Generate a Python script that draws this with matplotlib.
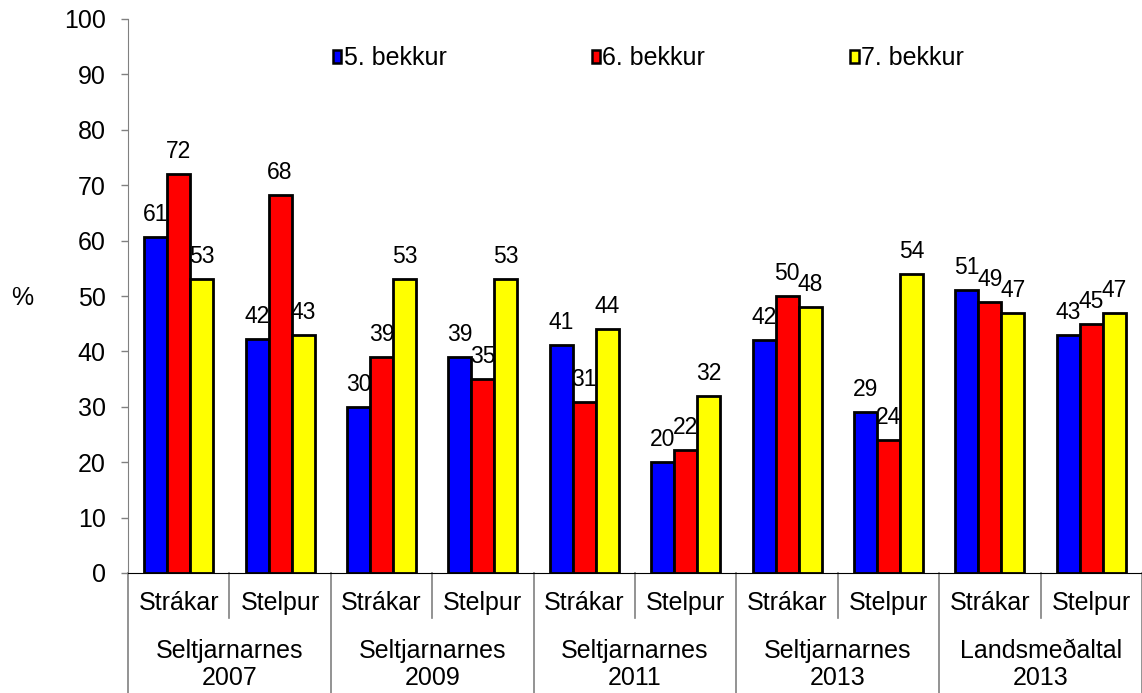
import matplotlib
matplotlib.use("Agg")
import matplotlib.pyplot as plt
from matplotlib.patches import Patch
import numpy as np

plt.rcParams['font.family'] = ['Liberation Sans', 'DejaVu Sans']

# Data
sub_labels = ['Strákar', 'Stelpur'] * 5
group_labels = ['Seltjarnarnes\n2007', 'Seltjarnarnes\n2009', 'Seltjarnarnes\n2011',
                'Seltjarnarnes\n2013', 'Landsmeðaltal\n2013']
series_names = ['5. bekkur', '6. bekkur', '7. bekkur']
bekkur5 = [60.6, 42.2, 30.0, 39.0, 41.2, 20.0, 42.0, 29.0, 51.0, 43.0]
bekkur6 = [72.0, 68.2, 39.0, 35.0, 30.8, 22.2, 50.0, 24.0, 49.0, 45.0]
bekkur7 = [53.0, 42.9, 53.0, 53.0, 44.0, 32.0, 48.0, 54.0, 47.0, 47.0]
colors = ['#0000FF', '#FF0000', '#FFFF00']

FS = 18
W, H = 1142, 693
fig = plt.figure(figsize=(W / 100, H / 100), dpi=100)
ax = fig.add_axes([128 / W, (H - 573) / H, (W - 128) / W, 554 / H])

n = len(sub_labels)
x = np.arange(n) + 0.5
bw = 0.227
series = [bekkur5, bekkur6, bekkur7]
handles = []
for j, (vals, col, name) in enumerate(zip(series, colors, series_names)):
    pos = x + (j - 1) * bw
    ax.bar(pos, vals, width=bw, color=col, edgecolor='black', linewidth=2.0, zorder=3)
    for px, v in zip(pos, vals):
        ax.annotate(str(int(np.floor(v + 0.5))), (px, v), xytext=(0, 11.5),
                    textcoords='offset points', ha='center', va='baseline',
                    fontsize=16.5, zorder=4)
    handles.append(Patch(facecolor=col, edgecolor='black', linewidth=1.8, label=name))

ax.set_xlim(0, n)
ax.set_ylim(0, 100)
ax.set_yticks(range(0, 101, 10))
ax.tick_params(axis='y', direction='out', length=5, width=1, color='#808080',
               labelsize=FS, pad=11)
ax.set_xticks([])
for s in ['top', 'right']:
    ax.spines[s].set_visible(False)
ax.spines['left'].set_color('#808080')
ax.spines['bottom'].set_color('black')

# multi-level category axis
tr = ax.get_xaxis_transform()
for i, lab in enumerate(sub_labels):
    ax.text(i + 0.5, -0.054, lab, transform=tr, ha='center', va='center', fontsize=FS)
for k, lab in enumerate(group_labels):
    ax.text(2 * k + 1, -0.165, lab, transform=tr, ha='center', va='center',
            fontsize=FS, linespacing=1.15)
for i in range(n + 1):
    ybot = -0.22 if i % 2 == 0 else -0.0812
    ax.plot([i, i], [0, ybot], transform=tr, color='#808080', lw=1.2, clip_on=False)

fig.text(22 / W, 1 - 298 / H, '%', ha='center', va='center', fontsize=FS)

fig.legend(handles=handles, loc='center left', bbox_to_anchor=(333 / W, 1 - 58 / H),
           ncol=3, frameon=False, fontsize=FS, handlelength=0.33, handleheight=0.42,
           handletextpad=0.1, columnspacing=5.8, borderpad=0, borderaxespad=0)

fig.savefig('out.png', dpi=100)
